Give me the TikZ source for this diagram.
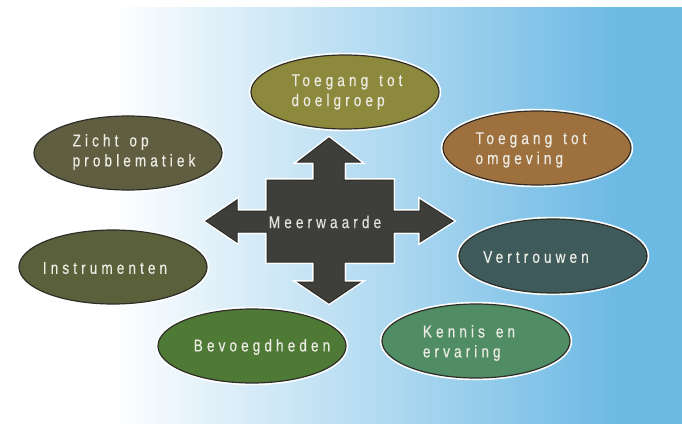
\documentclass[tikz,border=0pt]{standalone}
\usepackage{fontspec}
\setmainfont{Liberation Sans}
\newfontfamily\lblfont[LetterSpace=24,FakeStretch=0.8,FakeBold=0.4,WordSpace=1.4]{Liberation Sans}
\usetikzlibrary{shapes.geometric}
\definecolor{bgblue}{RGB}{108,185,228}
\definecolor{edgec}{RGB}{45,45,42}
\definecolor{arrowc}{RGB}{62,62,58}
\definecolor{txtc}{RGB}{236,236,228}
\definecolor{cdoel}{RGB}{140,136,60}
\definecolor{comg}{RGB}{158,112,62}
\definecolor{czicht}{RGB}{96,94,64}
\definecolor{cinstr}{RGB}{90,96,58}
\definecolor{cvertr}{RGB}{62,90,90}
\definecolor{ckennis}{RGB}{80,140,100}
\definecolor{cbevoeg}{RGB}{78,122,54}
\begin{document}
\begin{tikzpicture}[x=1pt,y=-1pt,
  bub/.style={ellipse, minimum width=188pt, minimum height=74pt, inner sep=0pt,
    draw=edgec, line width=1.2pt, preaction={draw=white, line width=4.5pt}},
  lbl/.style={text=txtc, align=left, inner sep=0pt,
    font=\lblfont\fontsize{17}{20}\selectfont}]
\useasboundingbox (0,0) rectangle (682,423);
% background
\fill[white] (-5,-5) rectangle (690,430);
\shade[left color=white, right color=bgblue] (110,7) rectangle (620,430);
\fill[bgblue] (619.5,7) rectangle (690,430);
% central four-way arrow
\draw[fill=arrowc, draw=edgec, line width=1pt, line join=miter,
      preaction={draw=white, line width=4pt}]
  (329,138) -- (360,162) -- (344,162) -- (344,180) -- (393,180) -- (393,211)
  -- (420,211) -- (420,200) -- (453,221) -- (420,242) -- (420,232) -- (393,232)
  -- (393,262) -- (344,262) -- (344,282) -- (360,282) -- (329,303) -- (298,282)
  -- (314,282) -- (314,262) -- (267,262) -- (267,232) -- (237,232) -- (237,242)
  -- (206,221) -- (237,200) -- (237,211) -- (267,211) -- (267,180) -- (314,180)
  -- (314,162) -- (298,162) -- cycle;
\node[lbl, text=txtc!90!gray] (meer) at (325,222) {Meerwaarde};
% ellipses
\node[bub, fill=cdoel]   (doel)   at (345,92)  {};
\node[bub, fill=comg]    (omg)    at (537,148) {};
\node[bub, fill=czicht]  (zicht)  at (128,153) {};
\node[bub, fill=cinstr]  (instr)  at (113,267) {};
\node[bub, fill=cvertr]  (vertr)  at (553,256) {};
\node[bub, fill=ckennis] (kennis) at (476,341) {};
\node[bub, fill=cbevoeg] (bevoeg) at (252,346) {};
% labels
\node[lbl] (tdoel)   at (347,92)  {Toegang tot\\doelgroep};
\node[lbl] (tomg)    at (531,150) {Toegang tot\\omgeving};
\node[lbl] (tzicht)  at (134,152) {Zicht op\\problematiek};
\node[lbl] (tinstr)  at (105,268) {Instrumenten};
\node[lbl] (tvertr)  at (536,257) {Vertrouwen};
\node[lbl] (tkennis) at (469,343) {Kennis en\\ervaring};
\node[lbl] (tbevoeg) at (262,347) {Bevoegdheden};
\end{tikzpicture}
\end{document}
